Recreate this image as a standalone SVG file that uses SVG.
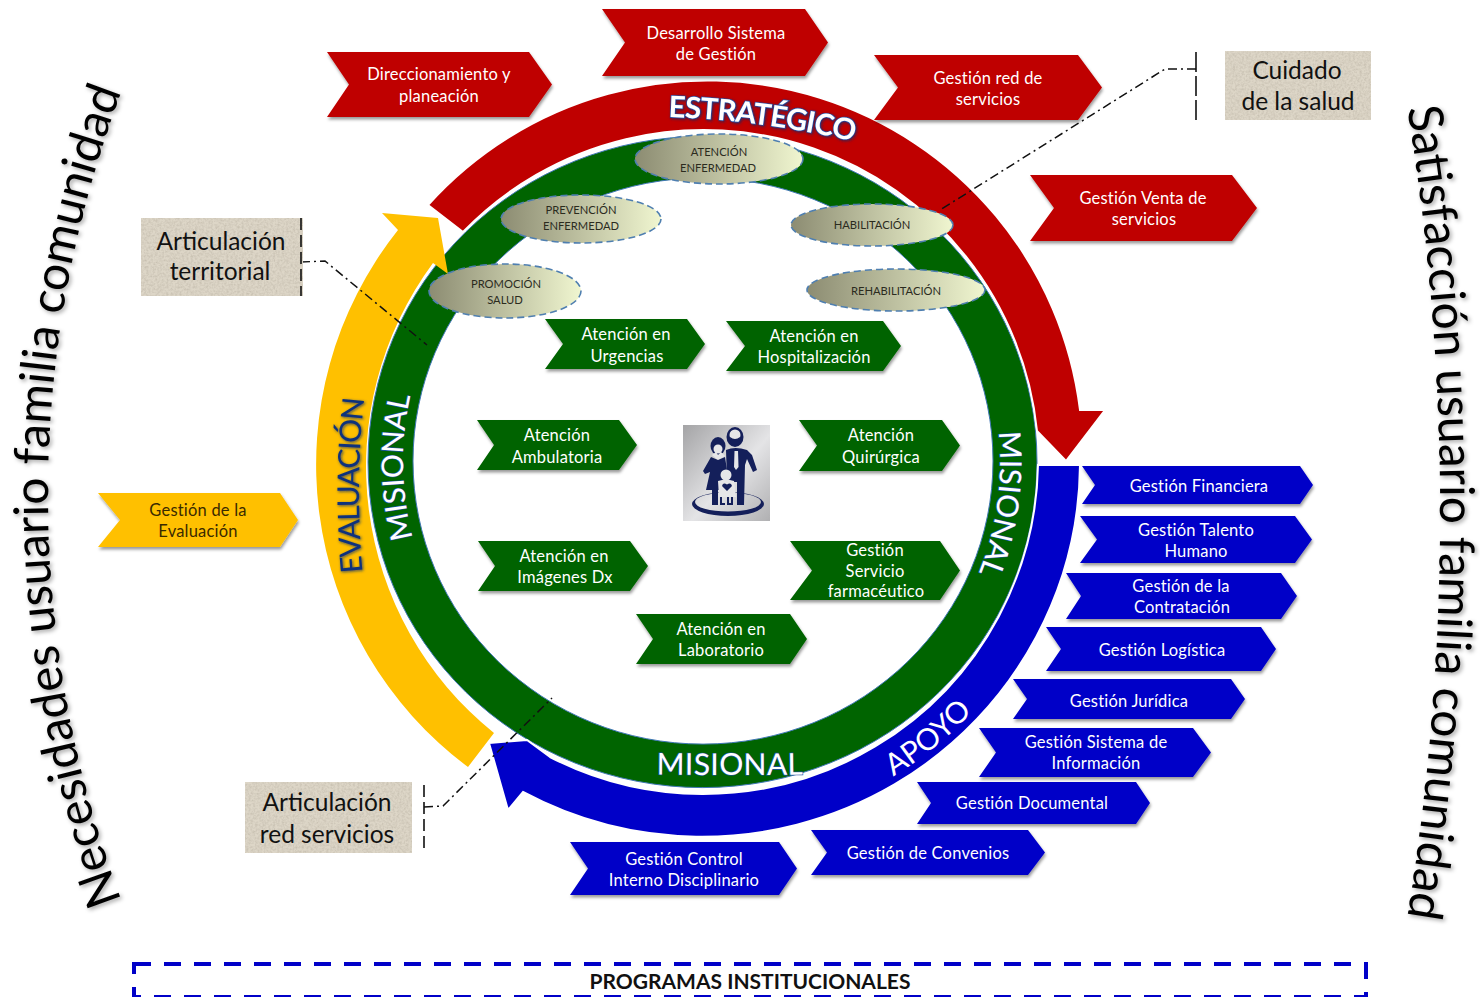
<svg xmlns="http://www.w3.org/2000/svg" width="1480" height="997" viewBox="0 0 1480 997">
<defs>
<filter id="sh" x="-5%" y="-10%" width="110%" height="130%"><feDropShadow dx="1" dy="2.5" stdDeviation="1.6" flood-color="#000" flood-opacity=".4"/></filter>
<filter id="glow" x="-10%" y="-30%" width="120%" height="160%"><feDropShadow dx="1" dy="1" stdDeviation="1.4" flood-color="#0b2a6b" flood-opacity=".8"/></filter>
<filter id="soft" x="-10%" y="-10%" width="120%" height="120%"><feDropShadow dx="2" dy="2" stdDeviation="2" flood-color="#000" flood-opacity=".35"/></filter>
<filter id="tex" x="0" y="0" width="100%" height="100%"><feTurbulence type="fractalNoise" baseFrequency=".45" numOctaves="3" seed="4"/><feColorMatrix values="0 0 0 0 .42  0 0 0 0 .38  0 0 0 0 .3  0 0 0 .9 -.32"/><feComposite in2="SourceGraphic" operator="in"/><feMerge><feMergeNode in="SourceGraphic"/><feMergeNode/></feMerge></filter>
<linearGradient id="ell"><stop offset="0" stop-color="#8c8c72"/><stop offset="1" stop-color="#f0f6d0"/></linearGradient>
<linearGradient id="pic" x1="0" y1="0" x2="1" y2="1"><stop offset="0" stop-color="#a4a4a6"/><stop offset=".55" stop-color="#e4e4e6"/><stop offset="1" stop-color="#b0b0b2"/></linearGradient>
<path id="pEst" d="M622 116.600 Q760 114.400 898 152.600"/>
<path id="pMisL" d="M445.700 616 A299 299 0 0 1 440.500 317"/>
<path id="pEva" d="M367 610 Q350 486 369 362"/>
<path id="pMisR" d="M978.300 350.300 A298 298 0 0 1 936.800 645.600"/>
<path id="pMisB" d="M620 774 Q730 776 840 774"/>
<path id="pApo" d="M766 824.400 A368 368 0 0 0 1044.700 596.300"/>
<path id="pLeft" d="M126 912 A1148 1148 0 0 1 126 80"/>
<path id="pRight" d="M1406 100 A2513 2513 0 0 1 1406 925"/>
</defs>
<style>
text{font-family:Lato,"Liberation Sans",sans-serif}
.r{filter:url(#sh)}
.lb{fill:#fff;font-size:16.5px;text-anchor:middle;letter-spacing:.2px}
.red{fill:#bf0000}.grn{fill:#006400}.blu{fill:#0000c8}.yel{fill:#ffc000}
.yt{fill:#3a2a00;font-size:16.5px;text-anchor:middle;letter-spacing:.2px}
.el{fill:url(#ell);stroke:#4f7fb0;stroke-width:1.6;stroke-dasharray:7 4}
.et{fill:#2b2b1e;font-size:11.200px;text-anchor:middle}
.box{fill:#ddd6c7;filter:url(#tex)}
.bt{fill:#111;font-size:24.500px;text-anchor:middle}
.br{fill:none;stroke:#111;stroke-width:1.6;stroke-dasharray:12 5}
.ld{fill:none;stroke:#111;stroke-width:1.5;stroke-dasharray:9 4 2 4}
.arc{text-anchor:middle}
.side{fill:#000;font-size:48px;text-anchor:middle;filter:url(#soft)}
.gap{stroke:#fff;stroke-width:2}
.ic{fill:#141f5a}.lt{fill:#e6e6e8}
</style>

<g id="band-green"><path fill="#006400" fill-rule="evenodd" stroke="#3f77b5" stroke-width="1" d="M368 462 A334 325 0 1 1 1037 462 A334 325 0 1 1 368 462 Z M413 461 A290 283 0 1 0 993 461 A290 283 0 1 0 413 461 Z"/></g>
<g id="band-red"><path class="red gap" d="M428 205 A375.500 375.500 0 0 1 1080 410 L1105 410 L1066 461 L1037 431 A335 335 0 0 0 463 232 Z"/></g>
<g id="band-blue"><path class="blu gap" d="M1038 465 L1080 465 A378 375 0 0 1 523 792 L508 810 L489 743 L527 740 L550 757 A335 335 0 0 0 1038 465 Z"/></g>
<g id="band-yellow"><path class="yel" d="M468 767 A377 377 0 0 1 398 230 L382 213 L438 218 L448 274 L433 263 A342 342 0 0 0 494 733 Z"/></g>

<g id="connectors">
<path class="ld" d="M1196 69 L1165 69 L940 210"/>
<path class="ld" d="M301 262 L325 261 L427 345"/>
<path class="ld" d="M424 807 L443 806 L552 698"/>
</g>

<g id="arc-labels" fill="#fff">
<text class="arc" font-size="29.500" font-weight="700" letter-spacing="-.8" stroke="#1f4ea8" stroke-width="1.4" paint-order="stroke" filter="url(#glow)"><textPath href="#pEst" startOffset="50%">ESTRATÉGICO</textPath></text>
<text class="arc" font-size="30" stroke="#1f4ea8" stroke-width="1.2" paint-order="stroke"><textPath href="#pMisL" startOffset="50%">MISIONAL</textPath></text>
<text class="arc" font-size="30" letter-spacing="-1.5" fill="#10307c" filter="url(#glow)"><textPath href="#pEva" startOffset="50%">EVALUACIÓN</textPath></text>
<text class="arc" font-size="30" stroke="#1f4ea8" stroke-width="1.2" paint-order="stroke"><textPath href="#pMisR" startOffset="50%">MISIONAL</textPath></text>
<text class="arc" font-size="30" letter-spacing=".4" stroke="#1f4ea8" stroke-width="1.2" paint-order="stroke"><textPath href="#pMisB" startOffset="50%">MISIONAL</textPath></text>
<text class="arc" font-size="30"><textPath href="#pApo" startOffset="50%">APOYO</textPath></text>
</g>

<g id="n-direccionamiento"><path class="r red" d="M327 52H529L552 84.500L529 117H327L349 84.500Z"/><text class="lb" x="439" y="80">Direccionamiento y</text><text class="lb" x="439" y="102">planeación</text></g>
<g id="n-desarrollo"><path class="r red" d="M602 9H805L828 42.500L805 76H602L625 42.500Z"/><text class="lb" x="716" y="39">Desarrollo Sistema</text><text class="lb" x="716" y="60">de Gestión</text></g>
<g id="n-red"><path class="r red" d="M874 55H1078L1102 87.500L1078 120H874L898 87.500Z"/><text class="lb" x="988" y="84">Gestión red de</text><text class="lb" x="988" y="105">servicios</text></g>
<g id="n-venta"><path class="r red" d="M1030 175H1232L1257 208L1232 241H1030L1054 208Z"/><text class="lb" x="1143" y="204">Gestión Venta de</text><text class="lb" x="1144" y="225">servicios</text></g>

<g id="n-urgencias"><path class="r grn" d="M545 319H687L705 344L687 369H545L563 344Z"/><text class="lb" x="626" y="340">Atención en</text><text class="lb" x="627" y="362">Urgencias</text></g>
<g id="n-hospitalizacion"><path class="r grn" d="M726 321H883L901 346L883 371H726L745 346Z"/><text class="lb" x="814" y="342">Atención en</text><text class="lb" x="814" y="363">Hospitalización</text></g>
<g id="n-ambulatoria"><path class="r grn" d="M477 420H619L637 445L619 470H477L494 445Z"/><text class="lb" x="557" y="441">Atención</text><text class="lb" x="557" y="463">Ambulatoria</text></g>
<g id="n-quirurgica"><path class="r grn" d="M799 420H942L960 445.500L942 471H799L817 445.500Z"/><text class="lb" x="881" y="441">Atención</text><text class="lb" x="881" y="463">Quirúrgica</text></g>
<g id="n-imagenes"><path class="r grn" d="M478 541H630L648 566L630 591H478L495 566Z"/><text class="lb" x="564" y="562">Atención en</text><text class="lb" x="565" y="583">Imágenes Dx</text></g>
<g id="n-farmaceutico"><path class="r grn" d="M790 541H940L960 570.500L940 600H790L812 570.500Z"/><text class="lb" x="875" y="556">Gestión</text><text class="lb" x="875" y="577">Servicio</text><text class="lb" x="876" y="597">farmacéutico</text></g>
<g id="n-laboratorio"><path class="r grn" d="M636 614H790L807 639L790 664H636L653 639Z"/><text class="lb" x="721" y="635">Atención en</text><text class="lb" x="721" y="656">Laboratorio</text></g>

<g id="n-financiera"><path class="r blu" d="M1082 466H1300L1313 485L1300 504H1082L1095 485Z"/><text class="lb" x="1199" y="492">Gestión Financiera</text></g>
<g id="n-talento"><path class="r blu" d="M1080 516H1295L1312 539.500L1295 563H1080L1097 539.500Z"/><text class="lb" x="1196" y="536">Gestión Talento</text><text class="lb" x="1196" y="557">Humano</text></g>
<g id="n-contratacion"><path class="r blu" d="M1066 573H1281L1297 596L1281 619H1066L1081 596Z"/><text class="lb" x="1181" y="592">Gestión de la</text><text class="lb" x="1182" y="613">Contratación</text></g>
<g id="n-logistica"><path class="r blu" d="M1046 627H1261L1276 649L1261 671H1046L1061 649Z"/><text class="lb" x="1162" y="656">Gestión Logística</text></g>
<g id="n-juridica"><path class="r blu" d="M1013 679H1231L1245 699L1231 719H1013L1027 699Z"/><text class="lb" x="1129" y="707">Gestión Jurídica</text></g>
<g id="n-sistema"><path class="r blu" d="M979 728H1193L1211 752.500L1193 777H979L996 752.500Z"/><text class="lb" x="1096" y="748">Gestión Sistema de</text><text class="lb" x="1096" y="769">Información</text></g>
<g id="n-documental"><path class="r blu" d="M917 782H1136L1150 803L1136 824H917L931 803Z"/><text class="lb" x="1032" y="809">Gestión Documental</text></g>
<g id="n-convenios"><path class="r blu" d="M811 830H1028L1045 852.500L1028 875H811L827 852.500Z"/><text class="lb" x="928" y="859">Gestión de Convenios</text></g>
<g id="n-control"><path class="r blu" d="M570 842H779L797 868.500L779 895H570L588 868.500Z"/><text class="lb" x="684" y="865">Gestión Control</text><text class="lb" x="684" y="886">Interno Disciplinario</text></g>

<g id="n-evaluacion"><path class="r yel" d="M98 493H280L298 520L280 547H98L120 520Z"/><text class="yt" x="198" y="516">Gestión de la</text><text class="yt" x="198" y="537">Evaluación</text></g>

<g id="n-enfermedad"><ellipse class="el" cx="719" cy="159" rx="84" ry="25"/><text class="et" x="719" y="156">ATENCIÓN</text><text class="et" x="718" y="172">ENFERMEDAD</text></g>
<g id="n-prevencion"><ellipse class="el" cx="581" cy="219" rx="80" ry="24"/><text class="et" x="581" y="214">PREVENCIÓN</text><text class="et" x="581" y="230">ENFERMEDAD</text></g>
<g id="n-promocion"><ellipse class="el" cx="505" cy="291" rx="76" ry="27"/><text class="et" x="506" y="288">PROMOCIÓN</text><text class="et" x="505" y="304">SALUD</text></g>
<g id="n-habilitacion"><ellipse class="el" cx="872" cy="225" rx="81" ry="21"/><text class="et" x="872" y="229">HABILITACIÓN</text></g>
<g id="n-rehabilitacion"><ellipse class="el" cx="896" cy="290" rx="89" ry="21"/><text class="et" x="896" y="295">REHABILITACIÓN</text></g>

<g id="n-familia">
<rect x="683" y="425" width="87" height="96" fill="url(#pic)"/>
<path class="ic" fill-rule="evenodd" d="M692 504 A36 12 0 1 0 764 504 A36 12 0 1 0 692 504 Z M695 502 A33 9.500 0 1 1 761 502 A33 9.500 0 1 1 695 502 Z"/>
<ellipse class="ic" cx="735" cy="437" rx="8.500" ry="10"/>
<ellipse class="lt" cx="735" cy="435" rx="5.500" ry="5.500"/>
<path class="ic" d="M730 437 Q735 441 740 437 L739 443 Q735 446 731 443 Z"/>
<path class="ic" d="M726 450 Q735 446 747 450 L752 455 L757 470 L753 472 L747 459 L745 465 L744 505 L737 505 L737 482 L727 482 Z"/>
<path class="lt" d="M734.500 451 H738 L738.500 467 L736 470 L734 467 Z"/>
<ellipse class="ic" cx="718" cy="446" rx="7.500" ry="9"/>
<ellipse class="lt" cx="718" cy="449" rx="4.500" ry="4.500"/>
<path class="lt" d="M712 455 L716 452 L718 455 L721 452 L725 456 L718 460 Z"/>
<path class="ic" d="M711 457 L718 460 L725 457 L727 470 L729 490 L706 490 L710 472 L705 474 L703 471 Z"/>
<rect class="ic" x="712" y="490" width="6" height="15"/>
<circle class="lt" cx="726" cy="475" r="5.500"/>
<path class="lt" d="M718 481 Q726 478 734 481 L736 497 L719 497 Z"/>
<path class="ic" d="M727 491 L722 486 Q723 482 727 484.500 Q731 482 732 486 Z"/>
<path class="ic" d="M720 497 H722 V503 H725 V505 H720 Z M727 497 H729 V503 H731 V497 H733 V505 H727 Z"/>
</g>

<g id="n-cuidado"><rect class="box" x="1225" y="51" width="146" height="69"/><text class="bt" x="1297" y="79">Cuidado</text><text class="bt" x="1298" y="110">de la salud</text></g>
<g id="n-territorial"><rect class="box" x="141" y="218" width="162" height="78"/><text class="bt" x="221" y="250">Articulación</text><text class="bt" x="220" y="280">territorial</text></g>
<g id="n-redserv"><rect class="box" x="245" y="782" width="167" height="71"/><text class="bt" x="327" y="811">Articulación</text><text class="bt" x="327" y="843">red servicios</text></g>

<g id="brackets">
<path class="br" style="stroke-dasharray:20 4" d="M1196 52V120"/>
<path class="br" d="M301 218V296"/>
<path class="br" d="M424 785V853"/>
</g>

<g id="side-labels">
<text class="side"><textPath href="#pLeft" startOffset="50%">Necesidades usuario familia comunidad</textPath></text>
<text class="side"><textPath href="#pRight" startOffset="50%">Satisfacción usuario familia comunidad</textPath></text>
</g>

<g id="n-programas">
<rect x="134" y="964" width="1232" height="33" fill="none" stroke="#0000c8" stroke-width="4" stroke-dasharray="17 13"/>
<text x="750" y="989" font-size="21" font-weight="700" fill="#111" text-anchor="middle">PROGRAMAS INSTITUCIONALES</text>
</g>
</svg>
